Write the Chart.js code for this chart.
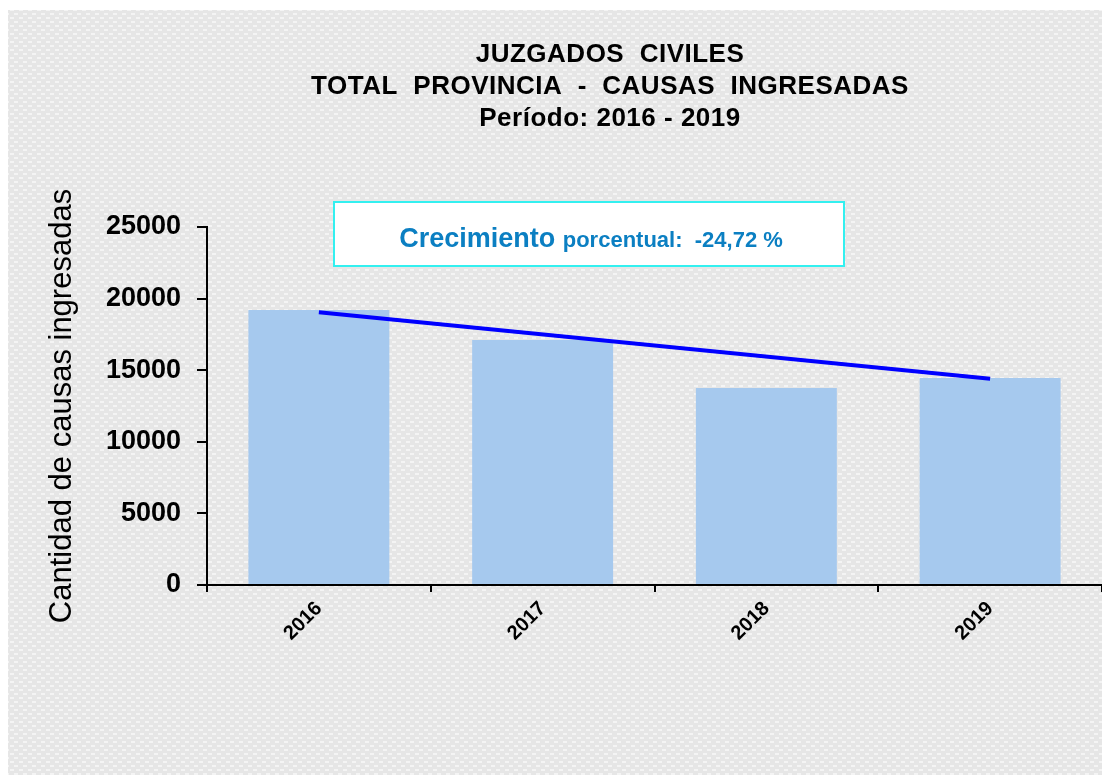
<!DOCTYPE html>
<html>
<head>
<meta charset="utf-8">
<script src="https://cdn.jsdelivr.net/npm/chart.js@4/dist/chart.umd.min.js"></script>
<style>
  html, body { margin: 0; padding: 0; background: #fff; }
  #wrap { width: 1102px; height: 781px; }
</style>
</head>
<body>
<div id="wrap"><canvas id="myChart" width="1102" height="781"></canvas></div>
<script>
/* DATA */
const years = ['2016', '2017', '2018', '2019'];
const causas = [19200, 17110, 13760, 14460];
const tendencia = [19050, null, null, 14400];
const yTicks = [0, 5000, 10000, 15000, 20000, 25000];
const titleLines = ['JUZGADOS  CIVILES', 'TOTAL  PROVINCIA  -  CAUSAS  INGRESADAS', 'Período: 2016 - 2019'];
const growthLabel = ['Crecimiento', 'porcentual:  -24,72 %'];

const FONT = '"Liberation Sans", Arial, sans-serif';

/* dotted grey backdrop */
function makePattern(ctx){
    const c = document.createElement('canvas');
    c.width = 9; c.height = 8;
    const p = c.getContext('2d');
    p.fillStyle = '#e6e6e6';
    p.fillRect(0, 0, 9, 8);
    p.fillStyle = '#f4f4f4';
    p.fillRect(1, 1, 4, 2);
    p.fillRect(5, 5, 4, 2);
    return ctx.createPattern(c, 'repeat');
}

const decor = {
    id: 'decor',
    beforeDraw(chart){
        const ctx = chart.ctx;
        ctx.save();
        ctx.fillStyle = makePattern(ctx);
        ctx.fillRect(8, 10, chart.width - 8, chart.height - 16);
        ctx.restore();
    },
    afterDraw(chart){
        const ctx = chart.ctx;
        ctx.save();
        // title lines
        ctx.fillStyle = '#000';
        ctx.textAlign = 'center';
        ctx.textBaseline = 'alphabetic';
        ctx.font = 'bold 26px ' + FONT;
        ctx.letterSpacing = '0.5px';
        titleLines.forEach((t, i) => ctx.fillText(t, 610, 62 + i * 32));
        ctx.letterSpacing = '0px';

        // growth box
        ctx.fillStyle = '#fff';
        ctx.fillRect(334, 202, 510, 64);
        ctx.strokeStyle = '#33f0f0';
        ctx.lineWidth = 2;
        ctx.strokeRect(334, 202, 510, 64);

        ctx.fillStyle = '#0b7fc2';
        ctx.textAlign = 'left';
        ctx.font = 'bold 27px ' + FONT;
        const w1 = ctx.measureText(growthLabel[0] + ' ').width;
        ctx.font = 'bold 22px ' + FONT;
        const w2 = ctx.measureText(growthLabel[1]).width;
        let x = 591 - (w1 + w2) / 2;
        ctx.font = 'bold 27px ' + FONT;
        ctx.fillText(growthLabel[0], x, 247);
        ctx.font = 'bold 22px ' + FONT;
        ctx.fillText(growthLabel[1], x + w1, 247);
        ctx.restore();
    }
};

const data = {
    labels: years,
    datasets: [
        {
            type: 'line',
            label: 'Tendencia',
            data: tendencia,
            borderColor: '#0000ff',
            borderWidth: 4,
            pointRadius: 0,
            spanGaps: true,
            order: 1
        },
        {
            type: 'bar',
            label: 'Causas ingresadas',
            data: causas,
            backgroundColor: '#a6c9ee',
            categoryPercentage: 1,
            barPercentage: 0.63,
            order: 2
        }
    ]
};

const config = {
    type: 'bar',
    data,
    plugins: [decor],
    options: {
        responsive: false,
        animation: false,
        layout: { padding: { top: 227, left: 44, right: 0, bottom: 0 } },
        plugins: {
            legend: { display: false },
            tooltip: { enabled: false }
        },
        scales: {
            x: {
                offset: true,
                afterFit(s){ s.height = 196; },
                grid: {
                    offset: true,
                    drawOnChartArea: false,
                    drawTicks: true,
                    tickLength: 7,
                    color: '#000',
                    lineWidth: 2
                },
                border: { display: true, color: '#000', width: 2 },
                ticks: {
                    color: '#000',
                    font: { family: FONT, size: 20, weight: 'bold' },
                    minRotation: 45,
                    maxRotation: 45,
                    padding: 5
                }
            },
            y: {
                min: 0,
                max: 25000,
                afterFit(s){ s.width = 207 - 44; },
                afterBuildTicks(s){ s.ticks = yTicks.map(v => ({ value: v })); },
                grid: {
                    drawOnChartArea: false,
                    drawTicks: true,
                    tickLength: 10,
                    color: '#000',
                    lineWidth: 2
                },
                border: { display: true, color: '#000', width: 2 },
                ticks: {
                    color: '#000',
                    font: { family: FONT, size: 27, weight: 'bold' },
                    padding: 16,
                    callback: v => String(v)
                },
                title: {
                    display: true,
                    text: 'Cantidad de causas ingresadas',
                    color: '#000',
                    font: { family: FONT, size: 31, weight: 'normal' },
                    padding: 0
                }
            }
        }
    }
};

let myChart = new Chart(document.getElementById('myChart'), config);
</script>
</body>
</html>
